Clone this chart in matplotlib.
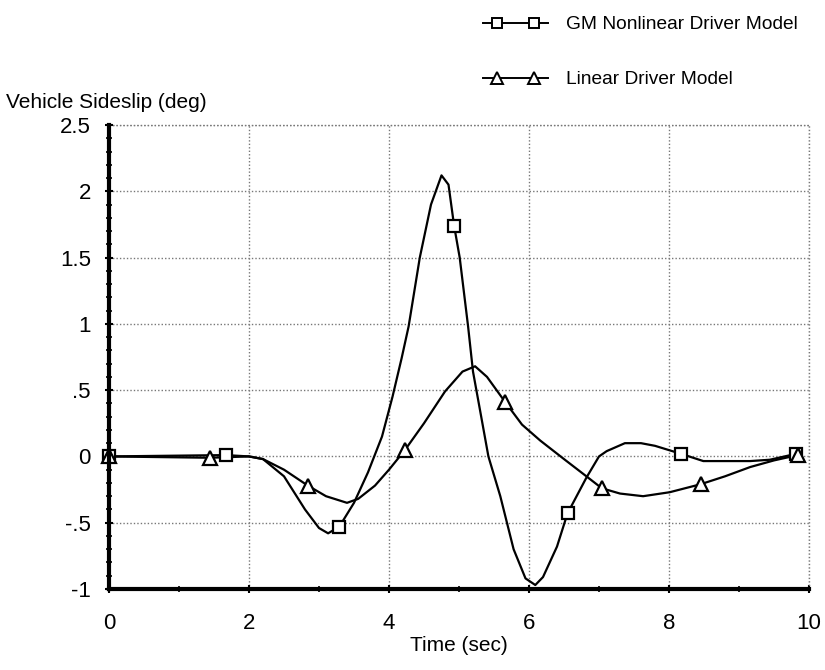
import matplotlib
matplotlib.use("Agg")
import matplotlib.pyplot as plt
from matplotlib.lines import Line2D
from matplotlib.legend_handler import HandlerLine2D, HandlerTuple
from matplotlib.ticker import FixedLocator, FixedFormatter, MultipleLocator

plt.rcParams['font.family'] = ['Liberation Sans', 'DejaVu Sans']

# ---- data ----
gm_t = [0, 1.67, 2.0, 2.2, 2.5, 2.8, 3.0, 3.13, 3.29, 3.5, 3.7, 3.9, 4.05, 4.18,
        4.28, 4.44, 4.6, 4.75, 4.85, 4.93, 5.01, 5.13, 5.2, 5.3, 5.42, 5.59, 5.78,
        5.95, 6.09, 6.2, 6.4, 6.55, 6.82, 7.0, 7.11, 7.37, 7.6, 7.8, 8.17, 8.49,
        9.16, 9.44, 9.82]
gm_y = [0, 0.01, 0.0, -0.02, -0.15, -0.40, -0.54, -0.58, -0.53, -0.35, -0.12, 0.15,
        0.45, 0.74, 0.98, 1.5, 1.9, 2.12, 2.05, 1.74, 1.5, 0.98, 0.64, 0.35, 0.0,
        -0.30, -0.70, -0.92, -0.97, -0.91, -0.68, -0.43, -0.16, 0.0, 0.04, 0.10,
        0.10, 0.08, 0.02, -0.035, -0.035, -0.025, 0.02]
gm_mark_t = [0, 1.67, 3.29, 4.93, 6.55, 8.17, 9.82]
gm_mark_y = [0, 0.01, -0.53, 1.74, -0.43, 0.02, 0.02]

lin_t = [0, 1.44, 2.0, 2.2, 2.5, 2.84, 3.1, 3.4, 3.56, 3.8, 4.0, 4.23, 4.5, 4.8,
         5.05, 5.23, 5.4, 5.66, 5.9, 6.16, 6.5, 6.82, 7.04, 7.3, 7.63, 8.01, 8.45,
         8.8, 9.16, 9.5, 9.84]
lin_y = [0, -0.01, 0.0, -0.02, -0.10, -0.22, -0.30, -0.35, -0.32, -0.22, -0.10,
         0.05, 0.25, 0.49, 0.64, 0.68, 0.60, 0.41, 0.24, 0.12, -0.02, -0.15, -0.24,
         -0.28, -0.30, -0.27, -0.21, -0.15, -0.08, -0.03, 0.01]
lin_mark_t = [0, 1.44, 2.84, 4.23, 5.66, 7.04, 8.45, 9.84]
lin_mark_y = [0, -0.01, -0.22, 0.05, 0.41, -0.24, -0.21, 0.01]

y_ticks = [-1, -0.5, 0, 0.5, 1, 1.5, 2, 2.5]
y_tick_labels = ['-1', '-.5', '0', '.5', '1', '1.5', '2', '2.5']
x_ticks = [0, 2, 4, 6, 8, 10]
x_tick_labels = ['0', '2', '4', '6', '8', '10']

labels = ['GM Nonlinear Driver Model', 'Linear Driver Model']

# ---- figure ----
fig = plt.figure(figsize=(8.25, 6.7), dpi=100)
ax = fig.add_axes([109/825, 1 - 589/670, 700/825, (589-125)/670])

ax.plot(gm_t, gm_y, color='black', lw=1.6, zorder=3)
ax.plot(lin_t, lin_y, color='black', lw=1.6, zorder=3)
ax.plot(gm_mark_t, gm_mark_y, ls='none', marker='s', ms=8.5, mfc='white',
        mec='black', mew=1.6, zorder=4, clip_on=False)
ax.plot(lin_mark_t, lin_mark_y, ls='none', marker='^', ms=10, mfc='white',
        mec='black', mew=1.6, zorder=4, clip_on=False)

ax.set_xlim(0, 10)
ax.set_ylim(-1, 2.5)

ax.yaxis.set_major_locator(FixedLocator(y_ticks))
ax.yaxis.set_major_formatter(FixedFormatter(y_tick_labels))
ax.yaxis.set_minor_locator(MultipleLocator(0.1))
ax.xaxis.set_major_locator(FixedLocator(x_ticks))
ax.xaxis.set_major_formatter(FixedFormatter(x_tick_labels))
ax.xaxis.set_minor_locator(MultipleLocator(1))

ax.tick_params(axis='both', which='major', direction='inout', length=6, width=1.5,
               labelsize=16, color='black')
ax.tick_params(axis='both', which='minor', direction='inout', length=4, width=1.2)
ax.tick_params(axis='y', which='major', pad=10)
ax.tick_params(axis='x', which='major', pad=14)

for s in ['top', 'right']:
    ax.spines[s].set_visible(False)
ax.spines['left'].set_linewidth(3)
ax.spines['bottom'].set_linewidth(3)
ax.spines['left'].set_zorder(5)
ax.spines['bottom'].set_zorder(5)

ax.grid(True, which='major', color='#777777', ls=(0, (1, 1.5)), lw=1)
ax.axhline(2.5, color='#777777', ls=(0, (1, 1.5)), lw=1, clip_on=False)
ax.axvline(10, color='#777777', ls=(0, (1, 1.5)), lw=1, clip_on=False)
ax.set_axisbelow(True)

ax.set_xlabel('Time (sec)', fontsize=15, labelpad=2)
fig.text(6/825, 1 - 102/670, 'Vehicle Sideslip (deg)', fontsize=15,
         ha='left', va='center')

line_h = [Line2D([], [], color='black', lw=1.4) for _ in range(2)]
mark_h = [
    Line2D([], [], ls='none', marker='s', ms=7.5, mfc='white', mec='black', mew=1.4),
    Line2D([], [], ls='none', marker='^', ms=8.5, mfc='white', mec='black', mew=1.4),
]
hmap = {tuple: HandlerTuple(ndivide=1)}
for h in line_h:
    hmap[h] = HandlerLine2D(marker_pad=0, numpoints=2)
for h in mark_h:
    hmap[h] = HandlerLine2D(marker_pad=0.75, numpoints=2)

fig.legend([(line_h[0], mark_h[0]), (line_h[1], mark_h[1])], labels,
           handler_map=hmap, loc='upper left', bbox_to_anchor=(483/825, 1 - 16/670),
           frameon=False, fontsize=13.8, handlelength=3.4, borderpad=0,
           borderaxespad=0, handletextpad=0.95, labelspacing=1.95)

fig.savefig('out.png', dpi=100)
